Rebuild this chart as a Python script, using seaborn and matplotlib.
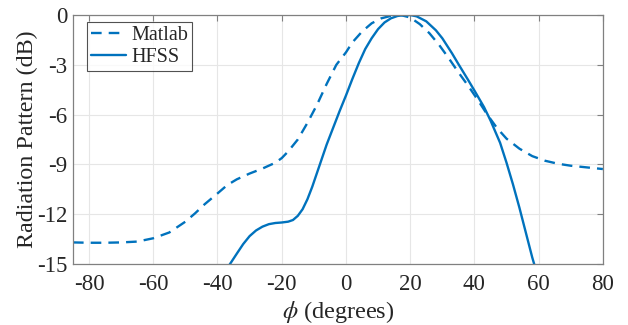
import matplotlib
matplotlib.use("Agg")
import matplotlib.pyplot as plt
import seaborn as sns
import pandas as pd

matlab_phi = [-85, -80, -75, -70, -65, -60, -55, -50, -47, -44, -40, -37, -34, -30, -26, -22, -20, -18,
              -15, -12, -9, -6, -3, 0, 2, 5, 8, 11, 14, 17, 20, 23, 26, 29, 32, 35, 38, 41, 44, 47,
              50, 54, 58, 62, 66, 70, 75, 80]
matlab_db = [-13.7, -13.72, -13.72, -13.7, -13.65, -13.45, -13.1, -12.45, -11.95, -11.4, -10.75, -10.25,
             -9.9, -9.55, -9.25, -8.9, -8.62, -8.22, -7.5, -6.5, -5.4, -4.15, -3.0, -2.25, -1.65, -1.0,
             -0.5, -0.2, -0.05, 0.0, -0.15, -0.55, -1.1, -1.8, -2.6, -3.45, -4.25, -5.1, -6.0, -6.8,
             -7.45, -8.05, -8.5, -8.78, -8.96, -9.08, -9.18, -9.28]

hfss_phi = [-38, -36, -34, -32, -30, -28, -26, -24, -22, -20, -18, -16.5, -15, -13.5, -12, -10.5, -9,
            -7.5, -6, -4, -2, 0, 2, 4, 6, 8, 10, 12, 14, 16, 18, 20, 22, 25, 28, 30, 33, 35, 38, 40,
            43, 45, 48, 50, 52, 54, 56, 58, 59.5]
hfss_db = [-15.55, -14.97, -14.38, -13.8, -13.32, -12.98, -12.75, -12.6, -12.53, -12.5, -12.45, -12.35,
           -12.1, -11.7, -11.1, -10.35, -9.5, -8.65, -7.8, -6.8, -5.8, -4.85, -3.85, -2.9, -2.05,
           -1.4, -0.85, -0.45, -0.2, -0.06, 0.0, 0.0, -0.08, -0.38, -0.92, -1.4, -2.3, -2.95, -3.9,
           -4.55, -5.55, -6.35, -7.7, -8.9, -10.2, -11.6, -13.1, -14.6, -15.6]

xticks = [-80, -60, -40, -20, 0, 20, 40, 60, 80]
yticks = [0, -3, -6, -9, -12, -15]

df = pd.concat([
    pd.DataFrame({"phi": matlab_phi, "db": matlab_db, "src": "Matlab"}),
    pd.DataFrame({"phi": hfss_phi, "db": hfss_db, "src": "HFSS"}),
], ignore_index=True)

sns.set_theme(style="whitegrid")
plt.rcParams["font.family"] = ["Liberation Serif", "DejaVu Serif"]
plt.rcParams["mathtext.fontset"] = "stix"

fig = plt.figure(figsize=(6.28, 3.25), dpi=100)
ax = fig.add_axes([0.1162, 0.1877, 0.8438, 0.7661])

color = "#0072BD"
sns.lineplot(data=df, x="phi", y="db", hue="src", style="src",
             palette={"Matlab": color, "HFSS": color},
             dashes={"Matlab": (4.5, 3), "HFSS": ""},
             linewidth=1.7, ax=ax, sort=False, estimator=None)

ax.set_xlim(-85, 80)
ax.set_ylim(-15, 0)
ax.set_xticks(xticks)
ax.set_yticks(yticks)
ax.set_yticklabels([str(v) for v in yticks])
ax.set_xticklabels([str(v) for v in xticks])
ax.tick_params(axis="both", labelsize=16.5, colors="#808080", labelcolor="#262626",
               direction="in", length=4, width=0.8, top=True, right=True)
ax.tick_params(axis="y", pad=4)
ax.tick_params(axis="x", pad=7)
ax.grid(True, color="#e6e6e6", linewidth=0.8)
for s in ax.spines.values():
    s.set_visible(True)
    s.set_color("#808080")
    s.set_linewidth(0.9)

ax.set_xlabel(r"$\phi$ (degrees)", fontsize=17.5, color="#262626", labelpad=3)
ax.set_ylabel("Radiation Pattern (dB)", fontsize=17.3, color="#262626", labelpad=-1)

leg = ax.legend(loc="upper left", bbox_to_anchor=(14 / 530, 1 - 7 / 249), borderaxespad=0,
                fontsize=14.5, frameon=True, fancybox=False,
                edgecolor="#262626", handlelength=1.75, handletextpad=0.25,
                borderpad=0.2, labelspacing=0.15)
leg.get_frame().set_linewidth(0.8)
for t in leg.get_texts():
    t.set_color("#262626")

fig.savefig("out.png", dpi=100)
